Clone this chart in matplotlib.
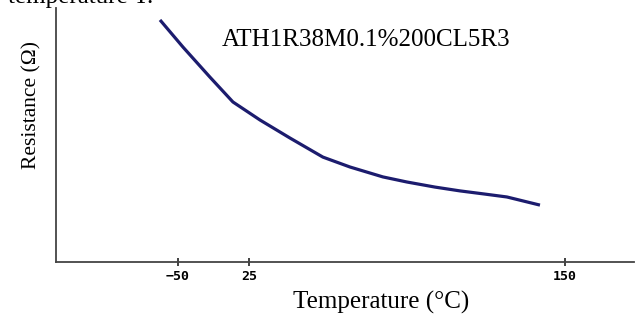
import matplotlib
matplotlib.use("Agg")
import matplotlib.pyplot as plt

# Curve (temperature in °C on the drawn axis, resistance in arbitrary units)
temperature = [-59.3, -47.4, -33.5, -21.6, -7.6, 7.9, 24.9, 38.9, 55.9, 68.3,
               82.8, 95.7, 108.0, 120.0, 137.1]
resistance = [95.3, 84.6, 72.8, 63.0, 55.9, 48.8, 41.3, 37.4, 33.5, 31.5,
              29.5, 28.0, 26.8, 25.6, 22.4]

tick_positions = [-50, -13.3, 150]
tick_labels = ["−50", "25", "150"]

serif = ["Liberation Serif", "DejaVu Serif"]

fig = plt.figure(figsize=(6.35, 3.22), dpi=100)
ax = fig.add_axes([56 / 635, (322 - 262) / 322, (634 - 56) / 635, (262 - 8) / 322])

ax.plot(temperature, resistance, color="#1c1c6e", linewidth=2.3,
        solid_capstyle="butt", solid_joinstyle="round")

ax.set_xlim(-113.05, 185.7)
ax.set_ylim(0, 100)

for side in ["top", "right"]:
    ax.spines[side].set_visible(False)
for side in ["left", "bottom"]:
    ax.spines[side].set_color("#444444")
    ax.spines[side].set_linewidth(1.3)

ax.set_yticks([])
ax.set_xticks(tick_positions)
ax.set_xticklabels(tick_labels, fontfamily="DejaVu Sans Mono", fontweight="bold", fontsize=9.5)
ax.tick_params(axis="x", direction="inout", length=6, width=1.3, color="#333333", pad=3)

ax.set_xlabel("Temperature (°C)", fontfamily=serif, fontsize=18)
ax.xaxis.set_label_coords(0.562, -0.115)
ax.set_ylabel("Resistance (Ω)", fontfamily=serif, fontsize=15.5)
ax.yaxis.set_label_coords(-0.025, 0.62)

fig.text(222 / 635, 1 - 40 / 322, "ATH1R38M0.1%200CL5R3", fontfamily=serif,
         fontsize=18, ha="left", va="center")

fig.text(153 / 635, 1 - 3 / 322, "temperature T.", fontfamily=serif, fontsize=18,
         ha="right", va="baseline")

fig.savefig("out.png", dpi=100, facecolor="white")
